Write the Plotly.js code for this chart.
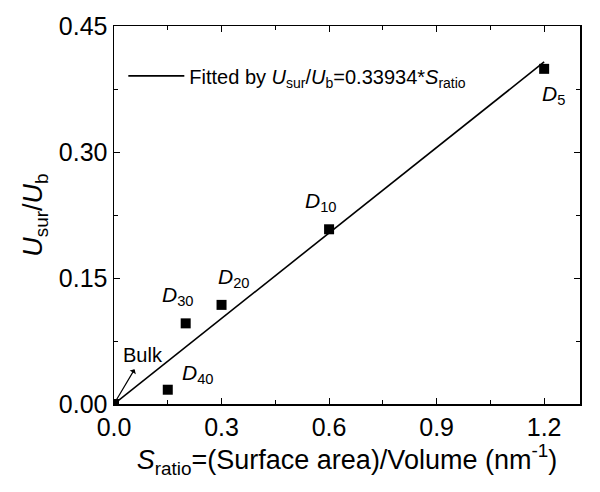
<!DOCTYPE html>
<html>
<head>
<meta charset="utf-8">
<script src="https://cdn.plot.ly/plotly-3.0.1.min.js"></script>
<style>html,body{margin:0;padding:0;background:#fff;}#chart{width:600px;height:492px;}</style>
</head>
<body>
<div id="chart"></div>
<script>
const sRatio = [0, 0.15, 0.2, 0.3, 0.6, 1.2];
const uRatio = [0, 0.017, 0.096, 0.118, 0.208, 0.399];
const pointLabels = ['Bulk', 'D40', 'D30', 'D20', 'D10', 'D5'];
const fitSlope = 0.33934;
const fitX = [0, 1.2];
const fitY = fitX.map(v => v * fitSlope);
const xTicks = [0, 0.3, 0.6, 0.9, 1.2];
const yTicks = [0, 0.15, 0.30, 0.45];

const FONT = 'Liberation Sans, Arial, sans-serif';

const traces = [
  {
    x: fitX, y: fitY, mode: 'lines', type: 'scatter',
    line: {color: '#000', width: 1.6},
    name: 'Fitted by <i>U</i><sub>sur</sub>/<i>U</i><sub>b</sub>=0.33934*<i>S</i><sub>ratio</sub>',
    showlegend: true
  },
  {
    x: sRatio, y: uRatio, mode: 'markers', type: 'scatter',
    marker: {symbol: 'square', size: 10, color: '#000'},
    showlegend: false, cliponaxis: true
  }
];

function dLabel(i, ax, ay) {
  const sub = pointLabels[i].slice(1);
  return {
    x: sRatio[i], y: uRatio[i], xref: 'x', yref: 'y',
    text: '<i>D</i><sub>' + sub + '</sub>',
    showarrow: true, arrowcolor: 'rgba(0,0,0,0)', ax: ax, ay: ay,
    font: {family: FONT, size: 21, color: '#000'}
  };
}

const annotations = [
  dLabel(1, 30, -16),
  dLabel(2, -8, -27),
  dLabel(3, 12, -27),
  dLabel(4, -8, -27),
  dLabel(5, 9, 26),
  {
    x: sRatio[0], y: uRatio[0], xref: 'x', yref: 'y',
    text: 'Bulk', showarrow: true, arrowhead: 2, arrowside: 'start',
    arrowsize: 0.8, arrowwidth: 1.2,
    arrowcolor: '#000', ax: 29, ay: -49, standoff: 4, startstandoff: 2,
    font: {family: FONT, size: 20, color: '#000'}
  }
];

const layout = {
  width: 600, height: 492,
  margin: {l: 114, r: 20, t: 26, b: 88},
  paper_bgcolor: '#fff', plot_bgcolor: '#fff',
  font: {family: FONT, color: '#000'},
  showlegend: true,
  legend: {
    x: 0.02, y: 0.868, xanchor: 'left', yanchor: 'middle',
    bgcolor: 'rgba(0,0,0,0)', borderwidth: 0,
    font: {family: FONT, size: 20, color: '#000'},
    itemwidth: 56
  },
  xaxis: {
    range: [0, 1.3], tickvals: xTicks, ticktext: xTicks.map(v => v.toFixed(1)),
    ticks: 'inside', ticklen: 6, tickwidth: 1, tickcolor: '#000',
    minor: {dtick: 0.15, ticks: 'inside', ticklen: 4, tickcolor: '#000', showgrid: false},
    showline: true, linecolor: '#000', linewidth: 1.5, mirror: 'ticks',
    showgrid: false, zeroline: false,
    tickfont: {family: FONT, size: 25, color: '#000'},
    title: {text: '<i>S</i><sub>ratio</sub>=(Surface area)/Volume (nm<sup>-1</sup>)',
            font: {family: FONT, size: 27, color: '#000'}, standoff: 8}
  },
  yaxis: {
    range: [0, 0.45], tickvals: yTicks, ticktext: yTicks.map(v => v.toFixed(2)),
    ticks: 'inside', ticklen: 6, tickwidth: 1, tickcolor: '#000',
    minor: {dtick: 0.075, ticks: 'inside', ticklen: 4, tickcolor: '#000', showgrid: false},
    showline: true, linecolor: '#000', linewidth: 1.5, mirror: 'ticks',
    showgrid: false, zeroline: false,
    tickfont: {family: FONT, size: 25, color: '#000'},
    title: {text: '<i>U</i><sub>sur</sub>/<i>U</i><sub>b</sub>',
            font: {family: FONT, size: 27, color: '#000'}, standoff: 8}
  },
  annotations: annotations
};

Plotly.newPlot('chart', traces, layout, {staticPlot: true, displayModeBar: false});
</script>
</body>
</html>
